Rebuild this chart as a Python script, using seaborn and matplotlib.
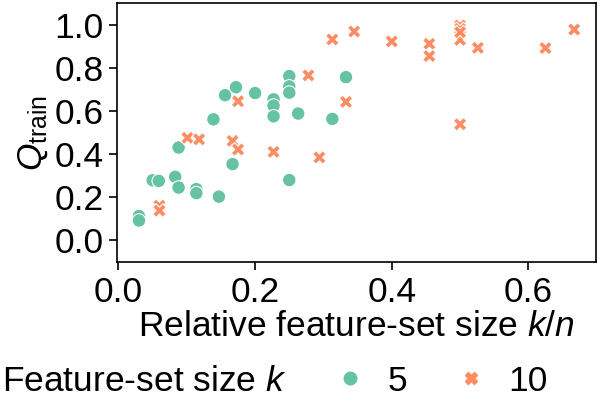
import pandas as pd
import matplotlib.pyplot as plt
import seaborn as sns
from matplotlib.lines import Line2D

# Valores: tamano relativo k/n y Q_train
rel_k5 = [0.030, 0.030, 0.050, 0.059, 0.083, 0.088, 0.088, 0.114, 0.114,
          0.147, 0.139, 0.156, 0.172, 0.167, 0.200, 0.227, 0.227, 0.227,
          0.250, 0.250, 0.250, 0.250, 0.263, 0.313, 0.333]
q_k5 = [0.112, 0.091, 0.278, 0.275, 0.294, 0.430, 0.244, 0.237, 0.218,
        0.202, 0.561, 0.673, 0.710, 0.353, 0.683, 0.654, 0.625, 0.575,
        0.762, 0.714, 0.685, 0.279, 0.588, 0.563, 0.757]

rel_k10 = [0.060, 0.060, 0.101, 0.118, 0.175, 0.167, 0.175, 0.227, 0.278,
           0.294, 0.313, 0.333, 0.345, 0.400, 0.455, 0.455, 0.500, 0.500,
           0.500, 0.500, 0.500, 0.526, 0.625, 0.667]
q_k10 = [0.160, 0.137, 0.475, 0.468, 0.645, 0.461, 0.421, 0.410, 0.765,
         0.384, 0.932, 0.642, 0.969, 0.923, 0.912, 0.855, 0.930, 0.997,
         0.981, 0.966, 0.538, 0.893, 0.892, 0.978]

df = pd.DataFrame({
    "rel": rel_k5 + rel_k10,
    "q": q_k5 + q_k10,
    "k": ["5"] * len(rel_k5) + ["10"] * len(rel_k10),
})

sns.set_theme(style="ticks")
plt.rcParams["font.family"] = ["Liberation Sans", "DejaVu Sans"]
plt.rcParams["mathtext.fontset"] = "custom"
plt.rcParams["mathtext.rm"] = "Liberation Sans"
plt.rcParams["mathtext.it"] = "Liberation Sans:italic"
plt.rcParams["axes.edgecolor"] = "black"
plt.rcParams["xtick.color"] = "black"
plt.rcParams["ytick.color"] = "black"
plt.rcParams["text.color"] = "black"
plt.rcParams["axes.labelcolor"] = "black"

fs = 25.5
colores = sns.color_palette("Set2", 2)

fig = plt.figure(figsize=(5.98, 3.97), dpi=100)
ax = fig.add_axes([0.196, 0.341, 0.8006, 0.6507])

sns.scatterplot(data=df, x="rel", y="q", hue="k", style="k",
                markers={"5": "o", "10": "X"}, palette=colores,
                s=95, ax=ax, legend=False)

ax.set_ylim(-0.1, 1.1)
ax.set_xticks([0.0, 0.2, 0.4, 0.6])
ax.set_yticks([0.0, 0.2, 0.4, 0.6, 0.8, 1.0])
ax.tick_params(labelsize=fs, width=1.2, length=6, pad=4)
for sp in ax.spines.values():
    sp.set_linewidth(1.2)
ax.set_xlabel("Relative feature-set size $k/n$", fontsize=fs, labelpad=1)
ax.set_ylabel(r"$Q_\mathrm{train}$", fontsize=fs, labelpad=3)

fig.text(0.004, 0.04, "Feature-set size $k$", fontsize=fs, va="center")
handles = [
    Line2D([], [], marker="o", ls="", color=colores[0], markersize=9),
    Line2D([], [], marker="X", ls="", color=colores[1], markersize=9),
]
fig.legend(handles, ["5", "10"], loc="center left", bbox_to_anchor=(0.515, 0.04),
           ncol=2, frameon=False, fontsize=fs, handletextpad=0.75,
           columnspacing=1.5, handlelength=0.6)

fig.savefig("out.png", dpi=100)
